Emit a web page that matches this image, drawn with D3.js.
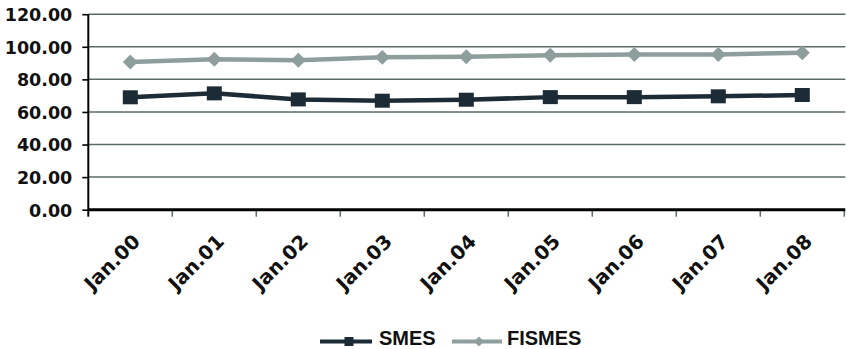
<!DOCTYPE html>
<html>
<head>
<meta charset="utf-8">
<script src="https://cdn.jsdelivr.net/npm/d3@7"></script>
<style>
  html, body { margin: 0; padding: 0; background: #ffffff; }
  svg { display: block; }
</style>
</head>
<body>
<svg id="chart" width="847" height="349"></svg>
<script>
const categories = ["Jan.00","Jan.01","Jan.02","Jan.03","Jan.04","Jan.05","Jan.06","Jan.07","Jan.08"];
const smes   = [69.0, 71.4, 67.7, 66.9, 67.5, 69.1, 69.1, 69.6, 70.4];
const fismes = [90.6, 92.3, 91.8, 93.5, 93.9, 94.8, 95.3, 95.3, 96.3];
const yTicks = [0, 20, 40, 60, 80, 100, 120];
const seriesNames = ["SMES", "FISMES"];

(function () {
const svg = d3.select("#chart");
const pLeft = 88.3, pRight = 844.3, pTop = 14.2, pBottom = 209.7;

const x = d3.scaleBand().domain(categories).range([pLeft, pRight]);
const y = d3.scaleLinear().domain([0, 120]).range([pBottom, pTop]);
const cx = d => x(d) + x.bandwidth() / 2;

// gridlines
svg.append("g").selectAll("line").data(yTicks.filter(t => t > 0)).join("line")
  .attr("x1", pLeft).attr("x2", pRight + 1)
  .attr("y1", d => y(d)).attr("y2", d => y(d))
  .attr("stroke", "#5d6a6a").attr("stroke-width", 1.5);

// y axis
const yAxis = d3.axisLeft(y).tickValues(yTicks).tickFormat(d3.format(".2f")).tickSize(6).tickPadding(10);
const gy = svg.append("g").attr("transform", `translate(${pLeft},0)`).call(yAxis);
gy.select(".domain").remove();
gy.selectAll(".tick line").attr("stroke", "#000").attr("stroke-width", 1.6);
gy.selectAll(".tick text")
  .attr("font-family", "DejaVu Sans").attr("font-weight", "bold")
  .attr("font-size", "17.5px").attr("fill", "#111").attr("dy", "0.36em");
svg.append("line").attr("x1", pLeft).attr("x2", pLeft).attr("y1", pTop).attr("y2", pBottom + 7)
  .attr("stroke", "#000").attr("stroke-width", 2);

// x axis
const bounds = categories.map(c => x(c) + x.bandwidth());
svg.append("g").selectAll("line").data(bounds).join("line")
  .attr("x1", d => d).attr("x2", d => d).attr("y1", pBottom).attr("y2", pBottom + 7)
  .attr("stroke", "#5d6a6a").attr("stroke-width", 1.5);
svg.append("line").attr("x1", pLeft).attr("x2", pRight + 1).attr("y1", pBottom).attr("y2", pBottom)
  .attr("stroke", "#000").attr("stroke-width", 3);

svg.append("g").selectAll("text").data(categories).join("text")
  .attr("transform", d => `translate(${cx(d) + 11},${pBottom + 33}) rotate(-45)`)
  .attr("text-anchor", "end")
  .attr("font-family", "DejaVu Sans").attr("font-weight", "bold")
  .attr("font-size", "19.5px").attr("fill", "#111")
  .text(d => d);

// lines
const line = d3.line().x((d, i) => cx(categories[i])).y(d => y(d));
svg.append("path").datum(fismes).attr("d", line).attr("fill", "none")
  .attr("stroke", "#8e9e9d").attr("stroke-width", 4.5);
svg.append("path").datum(smes).attr("d", line).attr("fill", "none")
  .attr("stroke", "#1c2b36").attr("stroke-width", 4.5);

const diamond = d3.symbol().type(d3.symbolSquare).size(112);
svg.append("g").selectAll("path").data(fismes).join("path")
  .attr("d", diamond)
  .attr("transform", (d, i) => `translate(${cx(categories[i])},${y(d)}) rotate(45)`)
  .attr("fill", "#8e9e9d");
svg.append("g").selectAll("rect").data(smes).join("rect")
  .attr("x", (d, i) => cx(categories[i]) - 7.5).attr("y", d => y(d) - 7)
  .attr("width", 15).attr("height", 14)
  .attr("fill", "#1c2b36");

// legend
const lg = svg.append("g");
lg.append("line").attr("x1", 320).attr("x2", 372).attr("y1", 341.5).attr("y2", 341.5)
  .attr("stroke", "#1c2b36").attr("stroke-width", 4);
lg.append("rect").attr("x", 344.5).attr("y", 337).attr("width", 9).attr("height", 9).attr("fill", "#1c2b36");
lg.append("text").attr("x", 379).attr("y", 344.5).text(seriesNames[0])
  .attr("font-family", "Liberation Sans").attr("font-weight", "bold").attr("font-size", "20px").attr("fill", "#111");
lg.append("line").attr("x1", 452).attr("x2", 502).attr("y1", 341.5).attr("y2", 341.5)
  .attr("stroke", "#8e9e9d").attr("stroke-width", 4);
lg.append("path").attr("d", d3.symbol().type(d3.symbolSquare).size(50))
  .attr("transform", "translate(479,341.5) rotate(45)").attr("fill", "#8e9e9d");
lg.append("text").attr("x", 507).attr("y", 344.5).text(seriesNames[1])
  .attr("font-family", "Liberation Sans").attr("font-weight", "bold").attr("font-size", "20px").attr("fill", "#111");
})();
</script>
</body>
</html>
